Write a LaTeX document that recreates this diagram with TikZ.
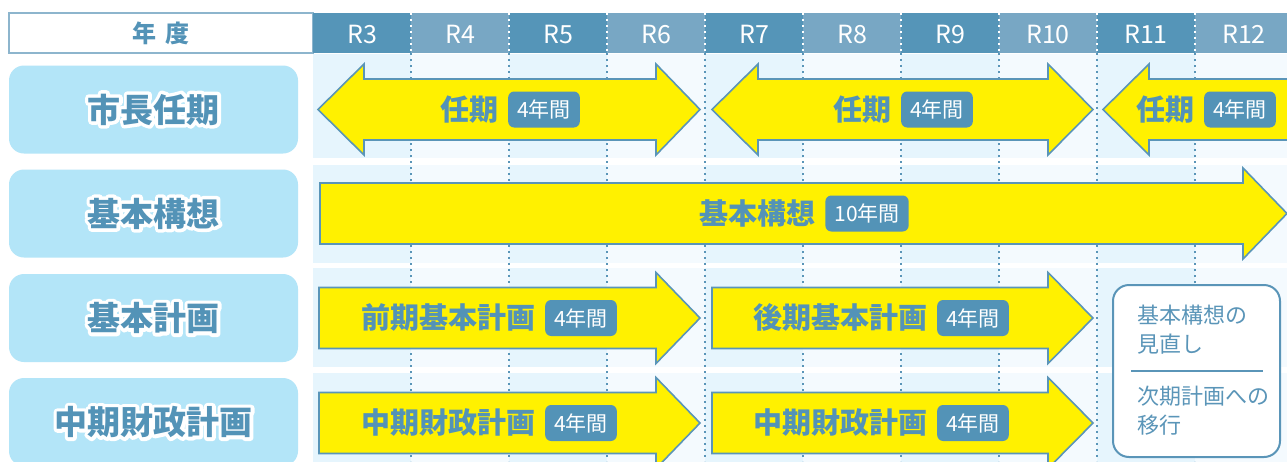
\documentclass[tikz,border=0pt]{standalone}
\usepackage{fontspec}
\setmainfont{Noto Sans CJK JP}
\usetikzlibrary{calc}
\definecolor{hdark}{HTML}{5595B8}
\definecolor{hlight}{HTML}{78A7C4}
\definecolor{txtblue}{HTML}{5393B7}
\definecolor{lblfill}{HTML}{B3E5F8}
\definecolor{coldark}{HTML}{E6F5FD}
\definecolor{collight}{HTML}{F4FAFE}
\definecolor{arrowfill}{HTML}{FFF100}
\definecolor{edgeblue}{HTML}{5A95B8}
\definecolor{hdrborder}{HTML}{8DB5CD}
\tikzset{
  lblbox/.style={fill=lblfill, rounded corners=15pt, minimum width=289pt, minimum height=88pt, inner sep=0pt},
  lbltext/.style={font=\fontsize{33}{36}\selectfont\bfseries, text=txtblue, inner sep=0pt},
  arrtext/.style={font=\fontsize{29}{32}\selectfont\bfseries, text=txtblue, inner sep=0pt},
  badgebox/.style={fill=txtblue, text=white, rounded corners=6pt, font=\fontsize{21}{24}\selectfont\mdseries, minimum height=36pt, inner xsep=9pt, inner ysep=0pt},
  bigarrow/.style={fill=arrowfill, draw=edgeblue, line width=1.6pt, line join=miter},
  vdots/.style={draw=edgeblue, line width=1.6pt, dash pattern=on 1.6pt off 4.4pt},
  hdots/.style={draw=white, line width=1.6pt, dash pattern=on 1.6pt off 4.4pt},
  hdrtext/.style={font=\fontsize{25}{28}\selectfont, text=white, inner sep=0pt},
  sidetext/.style={font=\fontsize{22}{29}\selectfont, text=edgeblue, align=left, inner sep=0pt},
}
\newcommand\badge[1]{\raisebox{0.37em}{\tikz[baseline=(bb.center)]\node[badgebox](bb){#1};}}
\newcommand\strokeon{\special{pdf:literal direct 1 Tr 7 w 1 j 1 J}}
\newcommand\strokeoff{\special{pdf:literal direct 0 Tr}}
\newcommand\rowlabel[3]{%
  \node[lblbox] (#1) at (153.5,#2) {};
  \node[lbltext,text=white] (#1h) at (#1.center) {\strokeon#3\strokeoff};
  \node[lbltext] (#1t) at (#1.center) {#3};
}
\begin{document}
\begin{tikzpicture}[x=1pt,y=-1pt]
\useasboundingbox (0,0) rectangle (1287,461);
\clip (0,0) rectangle (1287,461);
\fill[white] (0,0) rectangle (1287,461);

% body column bands
\foreach \ya/\yb in {54/158,165/263,268/367,373/475}{
  \foreach \i in {0,...,9}{
    \pgfmathsetmacro\xa{313+98*\i}
    \pgfmathsetmacro\xb{313+98*(\i+1)}
    \ifodd\i
      \fill[collight] (\xa,\ya) rectangle (\xb,\yb);
    \else
      \fill[coldark] (\xa,\ya) rectangle (\xb,\yb);
    \fi
  }
}

% header
\node[draw=hdrborder, line width=1.5pt, fill=white, minimum width=304pt, minimum height=40pt, inner sep=0pt] (nendo) at (161,33) {};
\node[font=\fontsize{24}{26}\selectfont\bfseries, text=txtblue, inner sep=0pt] (nendot) at (nendo.center) {年\hspace{0.4em}度};
\foreach \i in {0,...,9}{
  \pgfmathsetmacro\xa{313+98*\i}
  \pgfmathsetmacro\xb{313+98*(\i+1)}
  \pgfmathtruncatemacro\yr{\i+3}
  \ifodd\i
    \fill[hlight] (\xa,13) rectangle (\xb,53);
  \else
    \fill[hdark] (\xa,13) rectangle (\xb,53);
  \fi
  \node[hdrtext] (yr\yr) at ({313+98*\i+49},34) {R\yr};
}
\foreach \i in {1,...,9}{
  \pgfmathsetmacro\xa{313+98*\i}
  \draw[hdots] (\xa,13) -- (\xa,53);
  \draw[vdots] (\xa,53) -- (\xa,461);
}

% row labels
\rowlabel{la}{109.5}{市長任期}
\rowlabel{lb}{213.5}{基本構想}
\rowlabel{lc}{318}{基本計画}
\rowlabel{ld}{422}{中期財政計画}

% row 1: double arrows
\foreach \L/\B/\C/\T in {318/364/656/700, 712/758/1048/1093, 1103/1149/1300/1344}{
  \draw[bigarrow] (\L,109.5) -- (\B,64) -- (\B,79) -- (\C,79) -- (\C,64) -- (\T,109.5)
    -- (\C,155) -- (\C,140) -- (\B,140) -- (\B,155) -- cycle;
}
\node[arrtext] (a1) at (510,109.5) {任期\hspace{10pt}\badge{4年間}};
\node[arrtext] (a2) at (903,109.5) {任期\hspace{10pt}\badge{4年間}};
\node[arrtext] (a3) at (1206,109.5) {任期\hspace{10pt}\badge{4年間}};

% row 2
\draw[bigarrow] (320,183) -- (1243,183) -- (1243,168) -- (1287,213.5) -- (1243,259)
  -- (1243,244) -- (320,244) -- cycle;
\node[arrtext] (b1) at (804,213.5) {基本構想\hspace{10pt}\badge{10年間}};

% rows 3 and 4
\foreach \cy in {318,423}{
  \foreach \L/\B/\T in {319/656/700, 712/1048/1093}{
    \draw[bigarrow] (\L,\cy-30.5) -- (\B,\cy-30.5) -- (\B,\cy-45.5) -- (\T,\cy)
      -- (\B,\cy+45.5) -- (\B,\cy+30.5) -- (\L,\cy+30.5) -- cycle;
  }
}
\node[arrtext] (c1) at (489,318) {前期基本計画\hspace{10pt}\badge{4年間}};
\node[arrtext] (c2) at (881,318) {後期基本計画\hspace{10pt}\badge{4年間}};
\node[arrtext] (d1) at (489,423) {中期財政計画\hspace{10pt}\badge{4年間}};
\node[arrtext] (d2) at (881,423) {中期財政計画\hspace{10pt}\badge{4年間}};

% side box
\node[draw=edgeblue, line width=2pt, fill=white, rounded corners=16pt, minimum width=167pt, minimum height=172pt, inner sep=0pt] (sb) at (1196.5,371) {};
\coordinate (sl) at ($(sb.west)+(19,0)$);
\coordinate (sr) at ($(sb.east)+(-18,0)$);
\draw[edgeblue, line width=1.5pt] (sl) -- (sr);
\node[sidetext, anchor=west] (s1) at (1137,330) {基本構想の\\見直し};
\node[sidetext, anchor=west] (s2) at (1137,411) {次期計画への\\移行};
\end{tikzpicture}
\end{document}
